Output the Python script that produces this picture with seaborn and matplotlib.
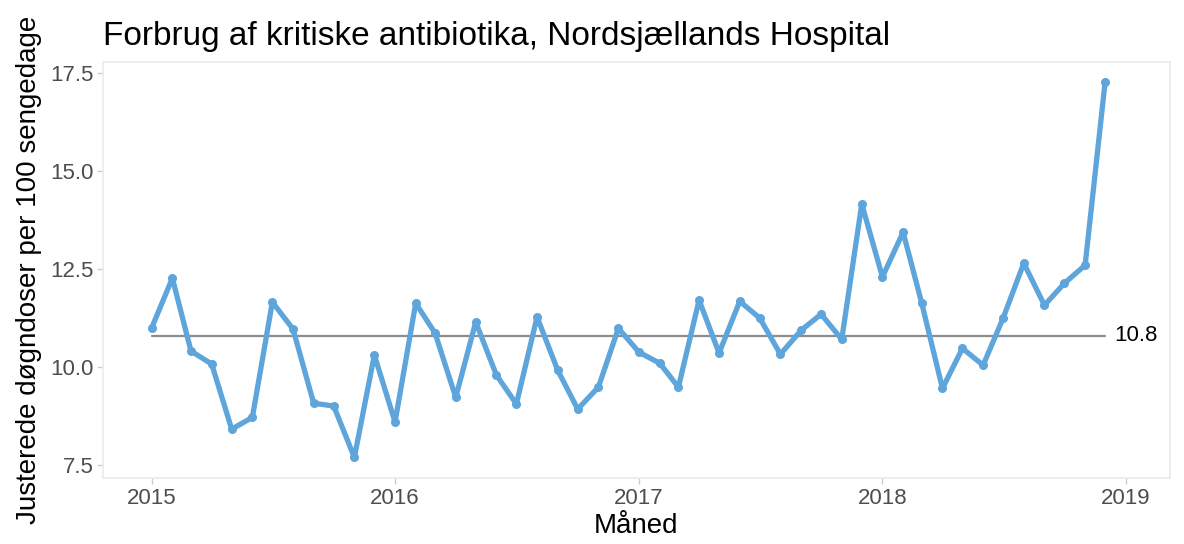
import pandas as pd
import matplotlib.pyplot as plt
import seaborn as sns

# Monthly consumption, Jan 2015 - Dec 2018
months = pd.date_range("2015-01-01", periods=48, freq="MS")
values_2015 = [11.0, 12.27, 10.41, 10.08, 8.42, 8.72, 11.66, 10.97, 9.08, 9.01, 7.70, 10.31]
values_2016 = [8.60, 11.63, 10.87, 9.23, 11.15, 9.80, 9.06, 11.28, 9.92, 8.93, 9.49, 10.99]
values_2017 = [10.38, 10.10, 9.49, 11.71, 10.36, 11.68, 11.25, 10.33, 10.94, 11.35, 10.71, 14.16]
values_2018 = [12.30, 13.44, 11.63, 9.46, 10.48, 10.05, 11.25, 12.65, 11.58, 12.14, 12.60, 17.27]
median_value = 10.8

df = pd.DataFrame({
    "month": months,
    "value": values_2015 + values_2016 + values_2017 + values_2018,
})

sns.set_style("white")
plt.rcParams["font.family"] = ["Liberation Sans", "DejaVu Sans"]

fig, ax = plt.subplots(figsize=(11.84, 5.44), dpi=100)
fig.subplots_adjust(left=0.087, right=0.988, top=0.886, bottom=0.121)

line_col = "#5DA5DA"

# Median reference line
ax.plot([df["month"].iloc[0], df["month"].iloc[-1]], [median_value, median_value],
        color="#8c8c8c", lw=1.6, zorder=1)
ax.text(df["month"].iloc[-1] + pd.Timedelta(days=14), median_value, f"{median_value}",
        va="center", ha="left", fontsize=16, color="black")

sns.lineplot(data=df, x="month", y="value", color=line_col, lw=3.8,
             marker="o", markersize=6.5, markeredgewidth=0, ax=ax, zorder=2)

ax.set_xlim(pd.Timestamp("2014-10-20"), pd.Timestamp("2019-03-08"))
ax.set_ylim(7.17, 17.78)
ax.set_yticks([7.5, 10.0, 12.5, 15.0, 17.5])
ax.set_yticklabels(["7.5", "10.0", "12.5", "15.0", "17.5"])
ax.set_xticks([pd.Timestamp(f"{y}-01-01") for y in range(2015, 2020)])
ax.set_xticklabels([str(y) for y in range(2015, 2020)])

ax.tick_params(axis="both", which="major", length=4, width=1, color="#cccccc",
               labelsize=16, labelcolor="#4d4d4d", bottom=True, left=True, pad=3)
for side in ["top", "bottom", "left", "right"]:
    ax.spines[side].set_color("#ebebeb")
    ax.spines[side].set_linewidth(1.2)

ax.set_title("Forbrug af kritiske antibiotika, Nordsjællands Hospital",
             loc="left", fontsize=24, pad=12, color="black")
ax.set_xlabel("Måned", fontsize=20, labelpad=3, color="black")
ax.set_ylabel("Justerede døgndoser per 100 sengedage", fontsize=20, labelpad=6, color="black")

plt.savefig("out.png", dpi=100)
plt.close()
